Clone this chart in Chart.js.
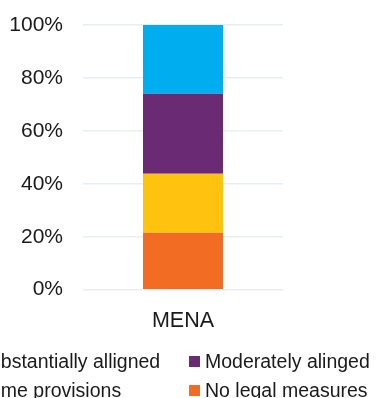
<!DOCTYPE html>
<html>
<head>
<meta charset="utf-8">
<script src="https://cdn.jsdelivr.net/npm/chart.js@4/dist/chart.umd.min.js"></script>
<style>
  html, body { margin: 0; padding: 0; background: #fff; }
  #wrap { position: relative; width: 376px; height: 398px; overflow: hidden; }
  #legend {
    position: absolute; left: -39px; top: 347px;
    display: grid; grid-template-columns: 228px 228px;
    font-family: "Liberation Sans", Arial, sans-serif; font-size: 19.5px;
    line-height: 29px; color: #1a1a1a; white-space: nowrap;
  }
  #legend .item { display: flex; align-items: center; }
  #legend .box { width: 11px; height: 11px; margin-right: 5px; flex: none; }
</style>
</head>
<body>
<div id="wrap">
  <canvas id="chart" width="376" height="398"></canvas>
  <div id="legend"></div>
</div>
<script>
const categories = ['MENA'];
const noLegalMeasures = [21.5];
const someProvisions = [22.3];
const moderatelyAlinged = [30.2];
const substantiallyAlligned = [26.0];
const yTicks = [0, 20, 40, 60, 80, 100];

Chart.defaults.font.family = '"Liberation Sans", Arial, sans-serif';
Chart.defaults.color = '#1a1a1a';

const datasets = [
  { label: 'No legal measures', data: noLegalMeasures, backgroundColor: '#f36c23' },
  { label: 'Some provisions', data: someProvisions, backgroundColor: '#ffc30f' },
  { label: 'Moderately alinged', data: moderatelyAlinged, backgroundColor: '#6b2a74' },
  { label: 'Substantially alligned', data: substantiallyAlligned, backgroundColor: '#00aeef' },
];

const ctx = document.getElementById('chart');
const chart = new Chart(ctx, {
    type: 'bar',
    data: {
        labels: categories,
        datasets: datasets.map(d => Object.assign({ categoryPercentage: 0.8, barPercentage: 0.5 }, d))
    },
    options: {
        responsive: false,
        animation: false,
        layout: {
            padding: { top: 25, right: 93, bottom: 53.5, left: 9 }
        },
        plugins: {
            legend: { display: false },
            tooltip: { enabled: false },
        },
        scales: {
            x: {
                stacked: true,
                grid: { display: false },
                border: { display: false },
                ticks: { font: { size: 21.5 }, padding: 10.5 }
            },
            y: {
                stacked: true,
                min: 0,
                max: 100,
                afterBuildTicks: axis => { axis.ticks = yTicks.map(v => ({ value: v })); },
                // fixed axis width; the top/bottom labels may overhang the plot
                afterFit: axis => {
                    axis.width = 74;
                    axis.paddingTop = 0;
                    axis.paddingBottom = 0;
                },
                ticks: {
                    font: { size: 21 },
                    padding: 20,
                    callback: v => v + '%'
                },
                grid: { color: '#e8eef1', lineWidth: 1.5, drawTicks: false },
                border: { display: false }
            }
        }
    },
});

// two-column legend, last series first
const legend = document.getElementById('legend');
chart.data.datasets.slice().reverse().forEach(ds => {
    const item = document.createElement('div');
    item.className = 'item';
    const box = document.createElement('span');
    box.className = 'box';
    box.style.background = ds.backgroundColor;
    const text = document.createElement('span');
    text.textContent = ds.label;
    item.appendChild(box);
    item.appendChild(text);
    legend.appendChild(item);
});
</script>
</body>
</html>
